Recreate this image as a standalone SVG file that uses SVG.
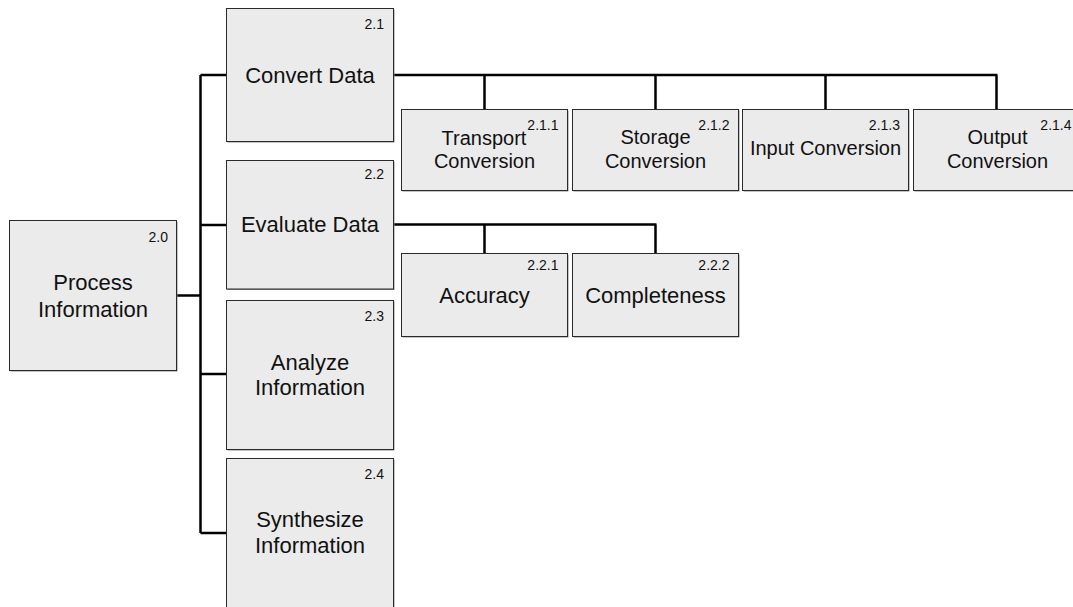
<svg xmlns="http://www.w3.org/2000/svg" width="1073" height="607" viewBox="0 0 1073 607">
<style>
.sh{fill:#8a8a8a}
.bx{fill:#ebebeb;stroke:#2a2a2a;stroke-width:1}
.t{font-family:"Liberation Sans",Arial,sans-serif;fill:#111;text-anchor:middle}
.t22{font-size:22px}
.t20{font-size:20px}
.num{font-family:"Liberation Sans",Arial,sans-serif;font-size:14px;fill:#111;text-anchor:end}
.c{fill:none;stroke:#000;stroke-width:2.5}
</style>
<rect width="1073" height="607" fill="#fff"/>
<g id="connectors">
<path class="c" d="M200.5 75V533M200.5 75H226.5M200.5 225H226.5M200.5 374H226.5M200.5 533H226.5M176.5 295.5H200.5"/>
<path class="c" d="M393.5 75H997.5M484.5 75V109.5M655.5 75V109.5M825.5 75V109.5M996.5 75V109.5"/>
<path class="c" d="M393.5 224.5H656.5M484.5 224.5V253.5M655.5 224.5V253.5"/>
</g>
<g id="n2_0">
<rect class="sh" x="10.5" y="221.5" width="167" height="150"/>
<rect class="bx" x="9.5" y="220.5" width="167" height="150"/>
<text class="num" x="168" y="242">2.0</text>
<text class="t t22" x="93" y="290">Process</text>
<text class="t t22" x="93" y="316.5">Information</text>
</g>
<g id="n2_1">
<rect class="sh" x="227.5" y="9.5" width="167" height="133"/>
<rect class="bx" x="226.5" y="8.5" width="167" height="133"/>
<text class="num" x="384" y="28.5">2.1</text>
<text class="t t22" x="310" y="82.5">Convert Data</text>
</g>
<g id="n2_2">
<rect class="sh" x="227.5" y="161.5" width="167" height="128.5"/>
<rect class="bx" x="226.5" y="160.5" width="167" height="128.5"/>
<text class="num" x="384" y="179">2.2</text>
<text class="t t22" x="310" y="231.5">Evaluate Data</text>
</g>
<g id="n2_3">
<rect class="sh" x="227.5" y="301.5" width="167" height="149"/>
<rect class="bx" x="226.5" y="300.5" width="167" height="149"/>
<text class="num" x="384" y="320.5">2.3</text>
<text class="t t22" x="310" y="370">Analyze</text>
<text class="t t22" x="310" y="395">Information</text>
</g>
<g id="n2_4">
<rect class="sh" x="227.5" y="459.5" width="167" height="150"/>
<rect class="bx" x="226.5" y="458.5" width="167" height="150"/>
<text class="num" x="384" y="479">2.4</text>
<text class="t t22" x="310" y="526.5">Synthesize</text>
<text class="t t22" x="310" y="552.5">Information</text>
</g>
<g id="n2_1_1">
<rect class="sh" x="402.5" y="110.5" width="166" height="81"/>
<rect class="bx" x="401.5" y="109.5" width="166" height="81"/>
<text class="num" x="558.5" y="130">2.1.1</text>
<text class="t t20" x="484" y="145">Transport</text>
<text class="t t20" x="484.5" y="168">Conversion</text>
</g>
<g id="n2_1_2">
<rect class="sh" x="573.5" y="110.5" width="166" height="81"/>
<rect class="bx" x="572.5" y="109.5" width="166" height="81"/>
<text class="num" x="729.5" y="130">2.1.2</text>
<text class="t t20" x="655.5" y="143.5">Storage</text>
<text class="t t20" x="655.5" y="168">Conversion</text>
</g>
<g id="n2_1_3">
<rect class="sh" x="743.5" y="110.5" width="166" height="81"/>
<rect class="bx" x="742.5" y="109.5" width="166" height="81"/>
<text class="num" x="900" y="130">2.1.3</text>
<text class="t t20" x="825.5" y="155">Input Conversion</text>
</g>
<g id="n2_1_4">
<rect class="sh" x="914.5" y="110.5" width="166" height="81"/>
<rect class="bx" x="913.5" y="109.5" width="166" height="81"/>
<text class="num" x="1071.5" y="130">2.1.4</text>
<text class="t t20" x="997.5" y="143.5">Output</text>
<text class="t t20" x="997.5" y="168">Conversion</text>
</g>
<g id="n2_2_1">
<rect class="sh" x="402.5" y="254.5" width="166" height="83"/>
<rect class="bx" x="401.5" y="253.5" width="166" height="83"/>
<text class="num" x="558.5" y="270">2.2.1</text>
<text class="t t22" x="484.5" y="302.5">Accuracy</text>
</g>
<g id="n2_2_2">
<rect class="sh" x="573.5" y="254.5" width="166" height="83"/>
<rect class="bx" x="572.5" y="253.5" width="166" height="83"/>
<text class="num" x="729.5" y="270">2.2.2</text>
<text class="t t22" x="655.5" y="302.5">Completeness</text>
</g>
</svg>
